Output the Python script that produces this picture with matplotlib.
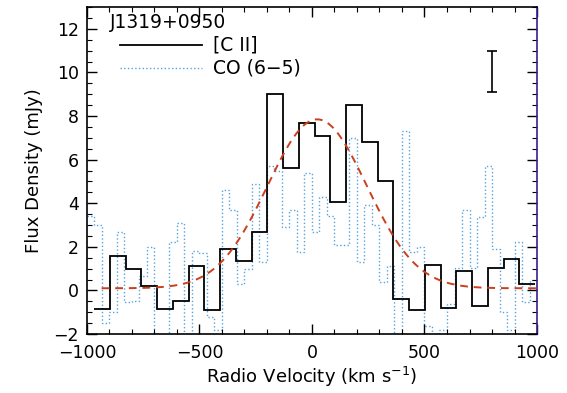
"""
[C II] and CO (6-5) spectra of J1319+0950 with Gaussian fit.
"""
import numpy as np
import matplotlib
matplotlib.use("Agg")
import matplotlib.pyplot as plt
from matplotlib.ticker import MultipleLocator

# [C II] spectrum: 70 km/s channels
cii_start, cii_width = -968, 70
cii_flux = [-0.83, 1.6, 1.0, 0.2, -0.87, -0.5, 1.1, -0.9, 1.9, 1.35,
            2.7, 9.0, 5.6, 7.7, 7.1, 4.05, 8.5, 6.8, 5.0, -0.4,
            -0.9, 1.15, -0.8, 0.9, -0.7, 1.05, 1.45, 0.3]

# CO (6-5) spectrum: ~33 km/s channels
co_start, co_width = -1000, 2000 / 60
co_flux = [3.4, 3.0, -1.5, -1.0, 2.7, -0.55, -0.5, 0.65, 2.0, -2.5,
           -2.4, 2.2, 3.1, -2.5, 1.8, 1.7, -1.2, -1.8, 4.6, 3.7,
           0.3, 1.0, 4.9, 1.3, 5.7, 5.5, 2.9, 3.7, 1.75, 5.4,
           2.7, 4.3, 3.4, 2.1, 2.1, 7.0, 1.3, 3.9, 3.0, 0.4,
           1.1, -2.5, 7.3, 1.75, 2.0, -1.65, -2.5, -1.8, -0.6, 1.05,
           3.7, 1.05, 3.35, 5.7, 1.9, -1.0, -1.8, 2.2, -0.55, 0.5]

# Gaussian fit to [C II]
g_amp, g_cen, g_fwhm, g_base = 7.75, 23.0, 520.0, 0.1
g_vmin, g_vmax = -935, 1000

# typical 1-sigma error bar
err_x, err_y, err_size = 800, 10.05, 0.95

source = "J1319+0950"

plt.rcParams.update({"font.family": "DejaVu Sans", "font.size": 13})

fig = plt.figure(figsize=(5.67, 3.93), dpi=100)
ax = fig.add_axes([0.1534, 0.150, 0.7937, 0.832])

cii_edges = cii_start + cii_width * np.arange(len(cii_flux) + 1)
co_edges = co_start + co_width * np.arange(len(co_flux) + 1)

co_col = "#56a3dc"
ax.stairs(co_flux, co_edges, baseline=None, color=co_col, lw=1.0, ls=":")
ax.stairs(cii_flux, cii_edges, baseline=None, color="black", lw=1.3)

v = np.linspace(g_vmin, g_vmax, 400)
sigma = g_fwhm / 2.3548
gauss = g_base + g_amp * np.exp(-0.5 * ((v - g_cen) / sigma) ** 2)
ax.plot(v, gauss, color="#cc3f1c", lw=1.4, dashes=(4, 3))

ax.errorbar([err_x], [err_y], yerr=[err_size], fmt="none", ecolor="black",
            elinewidth=1.2, capsize=3.5, capthick=1.2)

# legend drawn by hand
ax.text(0.051, 0.954, source, transform=ax.transAxes, ha="left", va="center", fontsize=13.5)
ax.plot([0.073, 0.256], [0.884, 0.884], transform=ax.transAxes, color="black", lw=1.3)
ax.text(0.280, 0.884, "[C II]", transform=ax.transAxes, ha="left", va="center", fontsize=13.5)
ax.plot([0.073, 0.256], [0.813, 0.813], transform=ax.transAxes, color=co_col, lw=1.0, ls=":")
ax.text(0.280, 0.813, "CO (6\u22125)", transform=ax.transAxes, ha="left", va="center", fontsize=13.5)

ax.set_xlim(-1000, 1000)
ax.set_ylim(-2, 13)
ax.xaxis.set_major_locator(MultipleLocator(500))
ax.xaxis.set_minor_locator(MultipleLocator(100))
ax.yaxis.set_major_locator(MultipleLocator(2))
ax.yaxis.set_minor_locator(MultipleLocator(0.5))
ax.tick_params(which="both", direction="in", top=True, right=True, labelsize=12.5)
ax.tick_params(which="major", length=7, width=1.0)
ax.tick_params(which="minor", length=3.5, width=0.8)
ax.tick_params(axis="x", pad=7)
ax.tick_params(axis="y", pad=6)
for s in ax.spines.values():
    s.set_linewidth(1.2)
ax.spines["right"].set_color("#3a1f8a")

ax.set_xlabel("Radio Velocity (km s$^{-1}$)", labelpad=2)
ax.set_ylabel("Flux Density (mJy)", labelpad=7)

fig.savefig("out.png", dpi=100)
